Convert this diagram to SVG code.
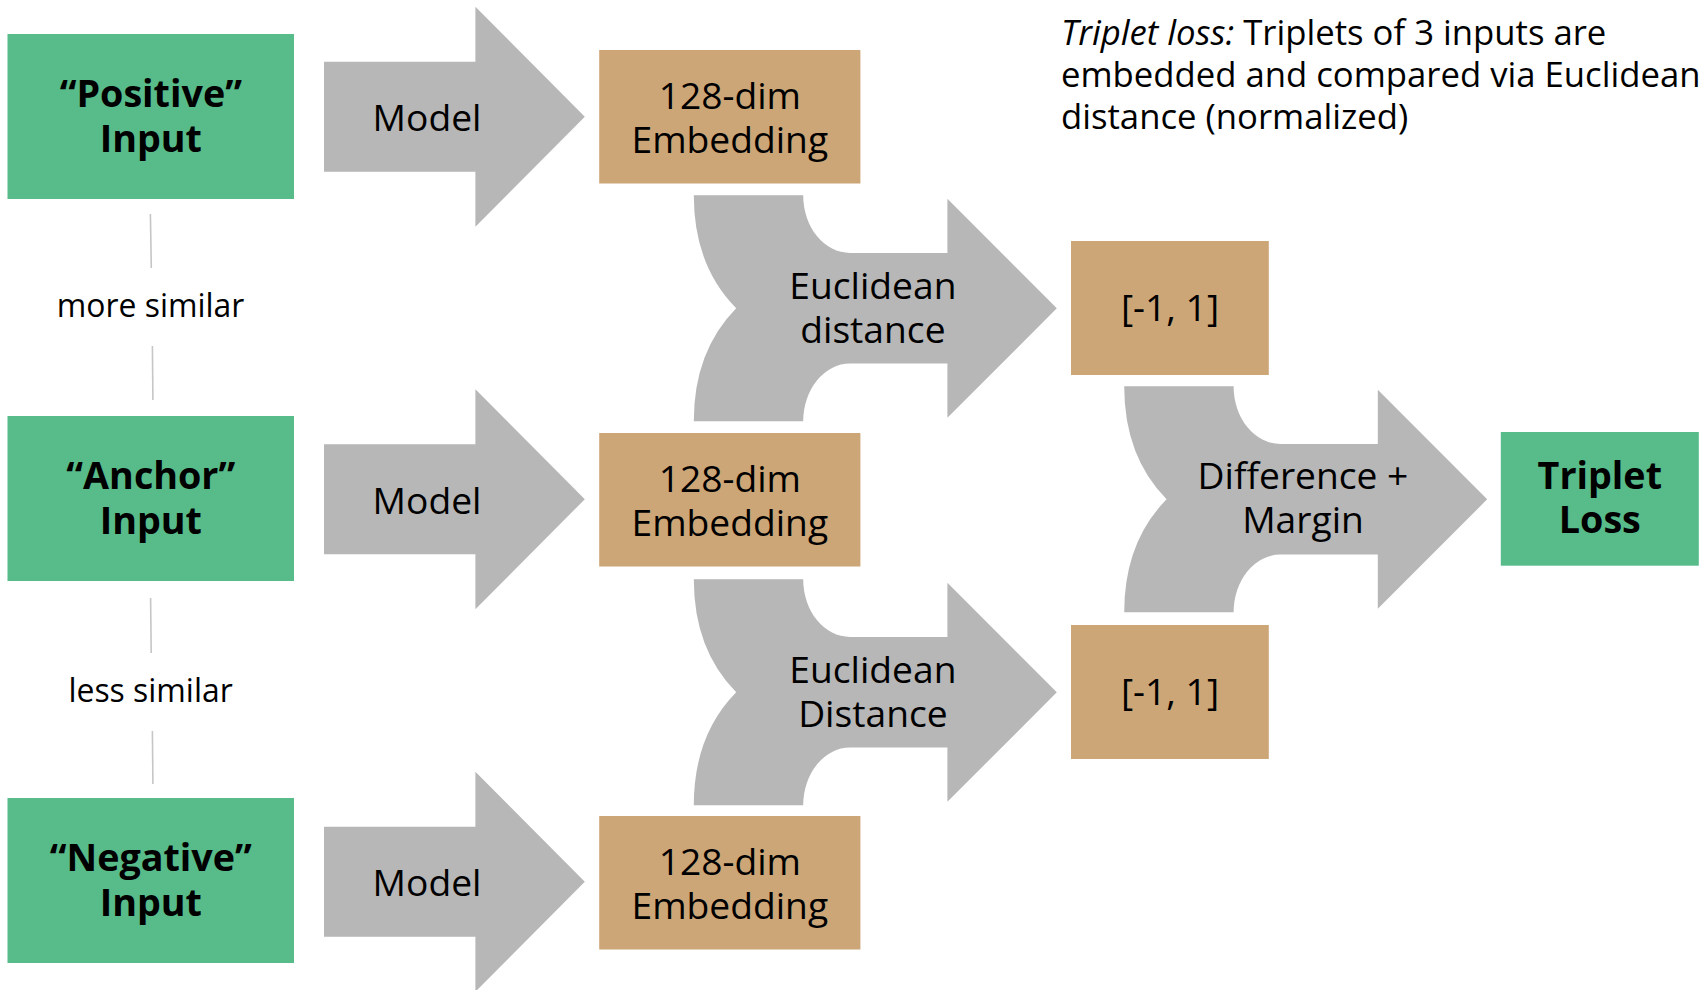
<svg xmlns="http://www.w3.org/2000/svg" width="1702" height="990" viewBox="0 0 1702 990">
<style>
  text { font-family: "Open Sans", "Noto Sans", "Liberation Sans", sans-serif; fill: #000; text-anchor: middle; font-size: 37.2px; }
  .green { fill: #57bb8a; }
  .tan { fill: #cca677; }
  .arrow { fill: #b7b7b7; }
  .bold { font-weight: 700; font-size: 37.7px; }
  .small { font-size: 31.9px; }
  .para { font-size: 34.7px; text-anchor: start; }
  .conn line { stroke: #c6c6c6; stroke-width: 1.6; }
</style>
<defs>
  <path id="modelArrow" d="M0,-55 H151.4 V-110 L260.8,0 L151.4,110 V55 H0 Z"/>
  <path id="mergeArrow" d="M0,-113 H109.4 A46.8 57.7 0 0 0 156.2,-55.3 H253.6 V-109.5 L363,0 L253.6,109.5 V55.3 H156.2 A46.8 57.7 0 0 0 109.4,113 H0 Q0,43 42.4,0 Q0,-43 0,-113 Z"/>
</defs>

<g id="connectors" class="conn">
  <line x1="150.4" y1="214" x2="151.3" y2="268"/>
  <line x1="152.4" y1="346" x2="152.9" y2="400"/>
  <line x1="150.6" y1="598" x2="151.2" y2="653"/>
  <line x1="152.4" y1="731" x2="152.9" y2="784"/>
</g>

<g id="sim-more"><text class="small" x="150.6" y="316.5">more similar</text></g>
<g id="sim-less"><text class="small" x="150.6" y="701.5">less similar</text></g>

<g id="positive-input">
  <rect class="green" x="7.5" y="34" width="286.5" height="165"/>
  <text class="bold" x="150.8" y="107.3">“Positive”</text>
  <text class="bold" x="150.8" y="151.7">Input</text>
</g>
<g id="anchor-input">
  <rect class="green" x="7.5" y="416" width="286.5" height="165"/>
  <text class="bold" x="150.8" y="489.3">“Anchor”</text>
  <text class="bold" x="150.8" y="533.7">Input</text>
</g>
<g id="negative-input">
  <rect class="green" x="7.5" y="798" width="286.5" height="165"/>
  <text class="bold" x="150.8" y="871.3">“Negative”</text>
  <text class="bold" x="150.8" y="915.7">Input</text>
</g>

<g id="model-1">
  <use href="#modelArrow" class="arrow" transform="translate(324,116.7)"/>
  <text x="427" y="131">Model</text>
</g>
<g id="model-2">
  <use href="#modelArrow" class="arrow" transform="translate(324,499.2)"/>
  <text x="427" y="513.5">Model</text>
</g>
<g id="model-3">
  <use href="#modelArrow" class="arrow" transform="translate(324,881.7)"/>
  <text x="427" y="896">Model</text>
</g>

<g id="embedding-1">
  <rect class="tan" x="599.2" y="50" width="261.2" height="133.5"/>
  <text x="729.8" y="108.7">128-dim</text>
  <text x="729.8" y="153">Embedding</text>
</g>
<g id="embedding-2">
  <rect class="tan" x="599.2" y="433" width="261.2" height="133.5"/>
  <text x="729.8" y="491.7">128-dim</text>
  <text x="729.8" y="536">Embedding</text>
</g>
<g id="embedding-3">
  <rect class="tan" x="599.2" y="816" width="261.2" height="133.5"/>
  <text x="729.8" y="874.7">128-dim</text>
  <text x="729.8" y="919">Embedding</text>
</g>

<g id="euclid-1">
  <use href="#mergeArrow" class="arrow" transform="translate(693.8,308.3)"/>
  <text x="872.9" y="299.3">Euclidean</text>
  <text x="872.9" y="342.7">distance</text>
</g>
<g id="euclid-2">
  <use href="#mergeArrow" class="arrow" transform="translate(693.8,692.3)"/>
  <text x="872.9" y="683.3">Euclidean</text>
  <text x="872.9" y="726.7">Distance</text>
</g>

<g id="dist-1">
  <rect class="tan" x="1071" y="241" width="197.8" height="134"/>
  <text x="1170" y="321">[-1, 1]</text>
</g>
<g id="dist-2">
  <rect class="tan" x="1071" y="625" width="197.8" height="134"/>
  <text x="1170" y="705">[-1, 1]</text>
</g>

<g id="difference">
  <use href="#mergeArrow" class="arrow" transform="translate(1124.2,499.3)"/>
  <text x="1303" y="489.3">Difference +</text>
  <text x="1303" y="533.3">Margin</text>
</g>

<g id="triplet-loss">
  <rect class="green" x="1500.8" y="432" width="198" height="133.7"/>
  <text class="bold" x="1599.8" y="489.3">Triplet</text>
  <text class="bold" x="1599.8" y="533.3">Loss</text>
</g>

<g id="caption">
  <text class="para" x="1061" y="45">
    <tspan font-style="italic">Triplet loss:</tspan> Triplets of 3 inputs are</text>
  <text class="para" x="1061" y="87">embedded and compared via Euclidean</text>
  <text class="para" x="1061" y="128.5">distance (normalized)</text>
</g>
</svg>
